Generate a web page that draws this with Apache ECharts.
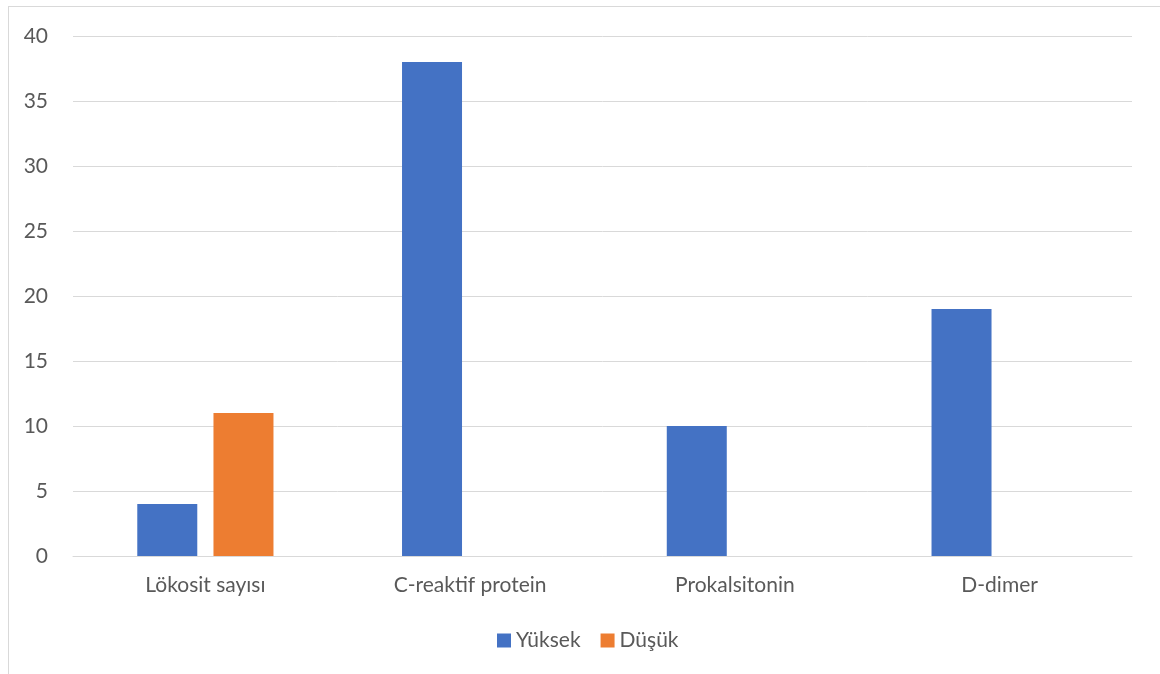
<!DOCTYPE html>
<html>
<head>
<meta charset="utf-8">
<script src="https://cdn.jsdelivr.net/npm/echarts@6/dist/echarts.min.js"></script>
<style>
    html, body { margin: 0; padding: 0; background: #fff; }
    #frame {
        position: absolute; left: 8px; top: 6px;
        width: 1200px; height: 720px;
        border: 1px solid #d9d9d9;
    }
    #chart { position: absolute; left: 0; top: 0; width: 1160px; height: 674px; }
</style>
</head>
<body>
<div id="frame"></div>
<div id="chart"></div>
<script>
// kategoriler ve seriler
const categories = ['Lökosit sayısı', 'C-reaktif protein', 'Prokalsitonin', 'D-dimer'];
const yuksek = [4, 38, 10, 19];
const dusuk = [11, 0, 0, 0];

const chart = echarts.init(document.getElementById('chart'));
const font = 'Lato, "Open Sans", sans-serif';

chart.setOption({
    animation: false,
    textStyle: { fontFamily: font },
    grid: { left: 73, right: 28, top: 36, bottom: 118 },
    legend: {
        bottom: 18,
        left: 492,
        itemWidth: 14,
        itemHeight: 14,
        itemGap: 20,
        icon: 'rect',
        textStyle: { color: '#595959', fontSize: 21, fontFamily: font },
        data: ['Yüksek', 'Düşük']
    },
    xAxis: {
        type: 'category',
        data: categories,
        axisLine: { lineStyle: { color: '#d9d9d9', width: 1 } },
        axisTick: { show: false },
        axisLabel: { color: '#595959', fontSize: 21, margin: 19 }
    },
    yAxis: {
        type: 'value',
        min: 0,
        max: 40,
        interval: 5,
        axisLine: { show: false },
        axisTick: { show: false },
        axisLabel: { color: '#595959', fontSize: 21, margin: 25 },
        splitLine: { lineStyle: { color: '#d9d9d9', width: 1 } }
    },
    series: [
        {
            name: 'Yüksek',
            type: 'bar',
            data: yuksek,
            barWidth: 60,
            barGap: '27%',
            itemStyle: { color: '#4472c4' }
        },
        {
            name: 'Düşük',
            type: 'bar',
            data: dusuk,
            barWidth: 60,
            itemStyle: { color: '#ed7d31' }
        }
    ]
});
</script>
</body>
</html>
